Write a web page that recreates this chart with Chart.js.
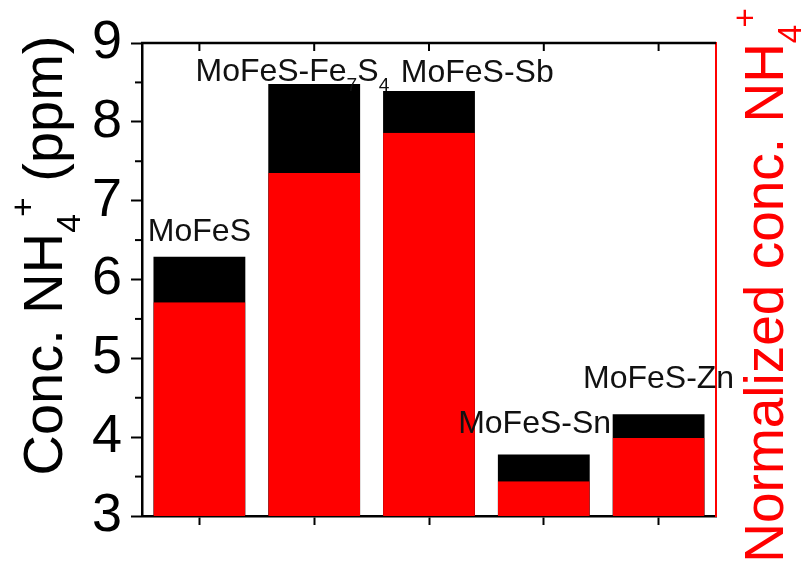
<!DOCTYPE html>
<html>
<head>
<meta charset="utf-8">
<script src="https://cdn.jsdelivr.net/npm/chart.js@4.4.1/dist/chart.umd.min.js"></script>
<style>
  body { margin: 0; background: #fff; }
  #wrap { width: 806px; height: 562px; }
</style>
</head>
<body>
<div id="wrap"><canvas id="chart"></canvas></div>
<script>
// samples on the x axis
const categories = ['MoFeS', 'MoFeS-Fe7S4', 'MoFeS-Sb', 'MoFeS-Sn', 'MoFeS-Zn'];
// black bars: conc. NH4+ (ppm)
const concValues = [6.29, 8.48, 8.39, 3.78, 4.29];
// red bars: normalized conc. NH4+
const normalizedValues = [5.71, 7.35, 7.86, 3.44, 3.99];
// left axis range
const yMin = 3;
const yMax = 9;
const yStep = 1;

// annotation text above the bars (parts with subscripts)
const barLabels = [
  [{ t: 'MoFeS' }],
  [{ t: 'MoFeS-Fe' }, { t: '7', sub: true }, { t: 'S' }, { t: '4', sub: true }],
  [{ t: 'MoFeS-Sb' }],
  [{ t: 'MoFeS-Sn' }],
  [{ t: 'MoFeS-Zn' }]
];
// where each annotation sits: shift in category widths, baseline in axis units
const labelShift = [0, -0.19, 0.42, -0.08, 0];
const labelLevel = [6.49, 8.52, 8.51, 4.05, 4.62];

const FONT = "'Liberation Sans', Arial, sans-serif";

// measure / draw a run of text parts along +x, baseline at y=0
function partsWidth(ctx, parts, size) {
  let w = 0;
  parts.forEach(p => {
    if (p.subsup) {
      ctx.font = `${size * 0.6}px ${FONT}`;
      w += ctx.measureText(p.sub).width * 0.85 + ctx.measureText(p.sup).width;
    } else {
      ctx.font = `${p.sub ? size * 0.6 : size}px ${FONT}`;
      w += ctx.measureText(p.t).width;
    }
  });
  return w;
}

function drawParts(ctx, parts, x, size) {
  ctx.textAlign = 'left';
  ctx.textBaseline = 'alphabetic';
  parts.forEach(p => {
    if (p.subsup) {
      ctx.font = `${size * 0.6}px ${FONT}`;
      const sw = ctx.measureText(p.sub).width;
      ctx.fillText(p.sub, x, size * 0.33);
      ctx.fillText(p.sup, x + sw * 0.85, -size * 0.5);
      x += sw * 0.85 + ctx.measureText(p.sup).width;
    } else if (p.sub) {
      ctx.font = `${size * 0.6}px ${FONT}`;
      ctx.fillText(p.t, x, size * 0.32);
      x += ctx.measureText(p.t).width;
    } else {
      ctx.font = `${size}px ${FONT}`;
      ctx.fillText(p.t, x, 0);
      x += ctx.measureText(p.t).width;
    }
  });
}

const leftTitle = [{ t: 'Conc. NH' }, { subsup: true, sub: '4', sup: '+' }, { t: ' (ppm)' }];
const rightTitle = [{ t: 'Normalized conc. NH' }, { subsup: true, sub: '4', sup: '+' }];

const annotationPlugin = {
  id: 'annotations',
  afterDatasetsDraw(chart) {
    const { ctx, scales } = chart;
    const step = scales.x.getPixelForValue(1) - scales.x.getPixelForValue(0);
    ctx.save();
    ctx.fillStyle = '#111';
    barLabels.forEach((parts, i) => {
      const size = 32;
      const w = partsWidth(ctx, parts, size);
      const cx = scales.x.getPixelForValue(i) + labelShift[i] * step;
      const by = scales.y.getPixelForValue(labelLevel[i]);
      ctx.save();
      ctx.translate(cx - w / 2, by);
      drawParts(ctx, parts, 0, size);
      ctx.restore();
    });
    ctx.restore();
  },
  afterDraw(chart) {
    const { ctx, chartArea, scales } = chart;
    ctx.save();
    // top frame line with inward ticks
    ctx.strokeStyle = '#000';
    ctx.lineWidth = 2.5;
    ctx.beginPath();
    ctx.moveTo(chartArea.left - 1, chartArea.top);
    ctx.lineTo(chartArea.right, chartArea.top);
    ctx.stroke();
    ctx.lineWidth = 2;
    categories.forEach((c, i) => {
      const x = scales.x.getPixelForValue(i);
      ctx.beginPath();
      ctx.moveTo(x, chartArea.top);
      ctx.lineTo(x, chartArea.top + 8);
      ctx.stroke();
    });
    // minor ticks on the left axis
    for (let v = yMin + yStep / 2; v < yMax; v += yStep) {
      const y = scales.y.getPixelForValue(v);
      ctx.beginPath();
      ctx.moveTo(chartArea.left - 7, y);
      ctx.lineTo(chartArea.left, y);
      ctx.stroke();
    }
    // axis titles
    ctx.fillStyle = '#000';
    let w = partsWidth(ctx, leftTitle, 56);
    ctx.save();
    ctx.translate(chartArea.left - 80, (chartArea.top + chartArea.bottom) / 2 - 24);
    ctx.rotate(-Math.PI / 2);
    drawParts(ctx, leftTitle, -w / 2, 56);
    ctx.restore();

    ctx.fillStyle = '#ff0000';
    w = partsWidth(ctx, rightTitle, 55);
    ctx.save();
    ctx.translate(chartArea.right + 67, (chartArea.top + chartArea.bottom) / 2 + 6);
    ctx.rotate(-Math.PI / 2);
    drawParts(ctx, rightTitle, -w / 2, 55);
    ctx.restore();
    ctx.restore();
  }
};

const chart = new Chart(document.getElementById('chart'), {
  type: 'bar',
  data: {
    labels: categories,
    datasets: [
      {
        label: 'Normalized conc.',
        data: normalizedValues,
        backgroundColor: '#ff0000',
        borderColor: '#000',
        borderWidth: { top: 0, right: 0, bottom: 5, left: 0 },
        borderSkipped: false,
        grouped: false,
        order: 0,
        yAxisID: 'y'
      },
      {
        label: 'Conc.',
        data: concValues,
        backgroundColor: '#000',
        grouped: false,
        order: 1,
        yAxisID: 'y'
      }
    ]
  },
  options: {
    responsive: true,
    maintainAspectRatio: false,
    animation: false,
    layout: { padding: { top: 43, left: 0, right: 0, bottom: 0 } },
    datasets: {
      bar: { barPercentage: 0.8, categoryPercentage: 1.0 }
    },
    plugins: {
      legend: { display: false },
      tooltip: { enabled: false }
    },
    scales: {
      x: {
        position: 'bottom',
        grid: { offset: false, drawOnChartArea: false, drawTicks: true, tickLength: 9, tickWidth: 2, tickColor: '#000' },
        border: { color: '#000', width: 2.5 },
        ticks: { display: false },
        afterFit(scale) { scale.height = 46; }
      },
      y: {
        position: 'left',
        min: yMin,
        max: yMax,
        ticks: {
          stepSize: yStep,
          color: '#000',
          padding: 9,
          font: { family: FONT, size: 54 }
        },
        grid: { drawOnChartArea: false, drawTicks: true, tickLength: 11, tickWidth: 2, tickColor: '#000' },
        border: { color: '#000', width: 2.5 },
        afterFit(scale) { scale.width = 142; }
      },
      y2: {
        position: 'right',
        min: yMin,
        max: yMax,
        ticks: { display: false },
        grid: { display: false, drawTicks: false },
        border: { color: '#ff0000', width: 2 },
        afterFit(scale) { scale.width = 90; }
      }
    }
  },
  plugins: [annotationPlugin]
});
</script>
</body>
</html>
